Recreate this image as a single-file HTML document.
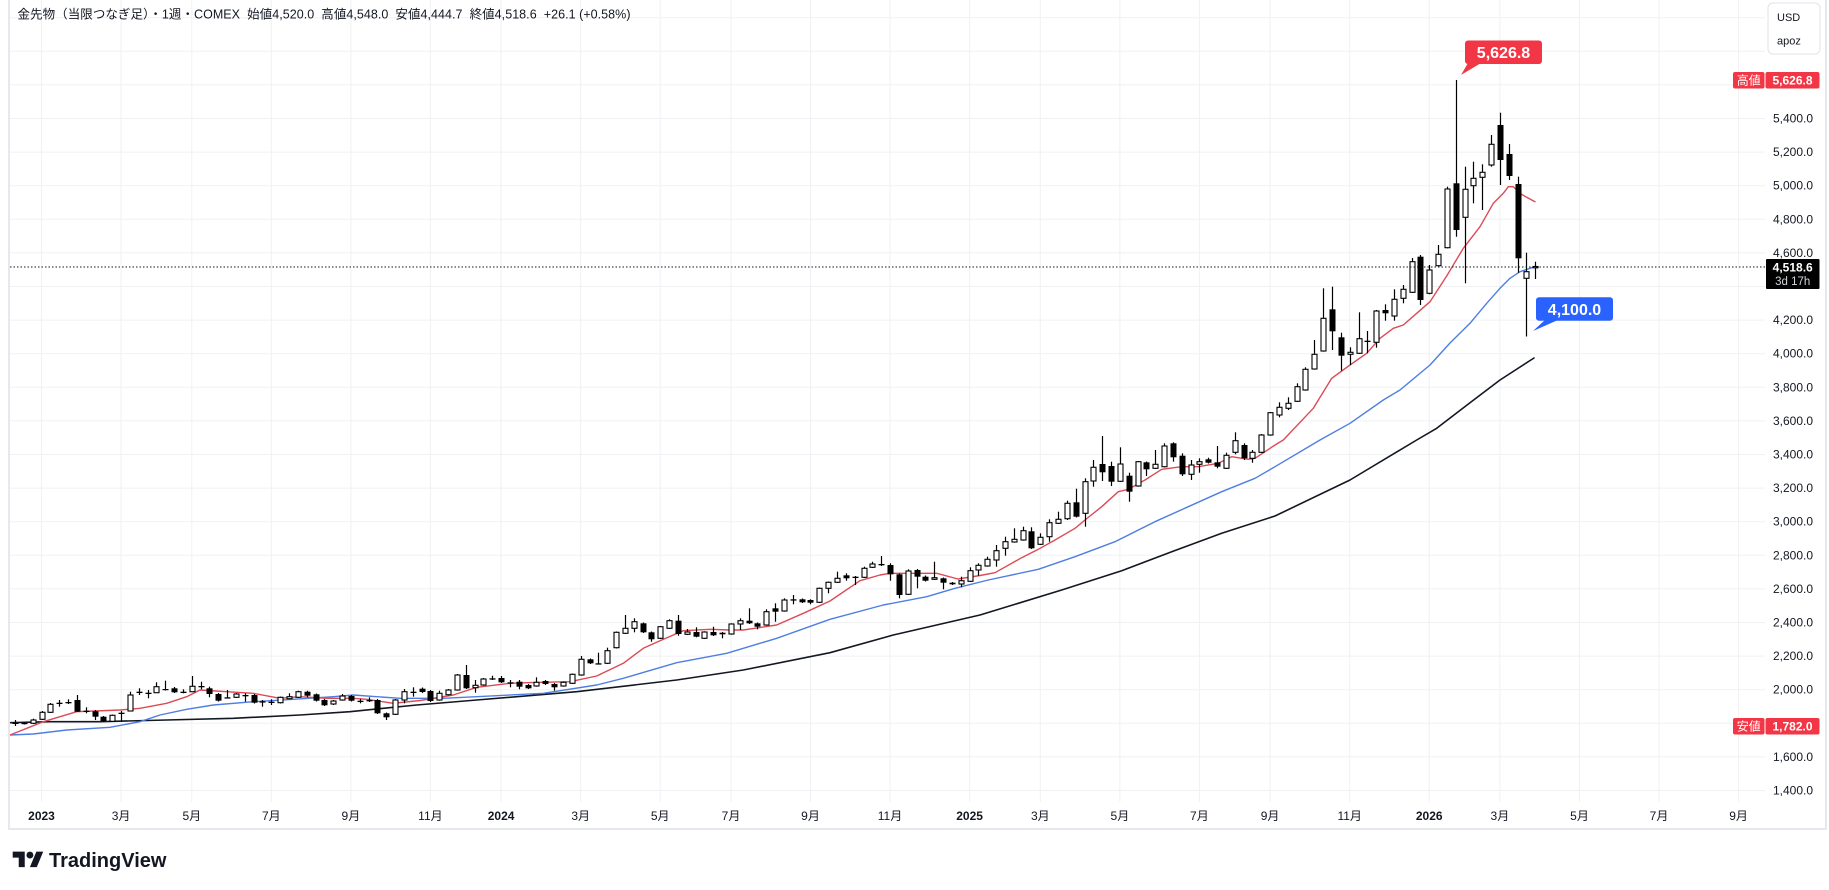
<!DOCTYPE html>
<html><head><meta charset="utf-8"><style>
html,body{margin:0;padding:0;background:#fff;width:1829px;height:890px;overflow:hidden}
svg{display:block}
text{font-family:"Liberation Sans","Noto Sans CJK JP",sans-serif}
</style></head><body>
<svg id="s" width="1829" height="890" viewBox="0 0 1829 890" xmlns="http://www.w3.org/2000/svg">
<rect x="0" y="0" width="1829" height="890" fill="#fff"/>
<g id="grid" stroke="#f0f1f4" stroke-width="1"></g>
<g id="ma" fill="none" stroke-linejoin="round" stroke-linecap="round"></g>
<g id="candles"></g>
<line x1="10" y1="267" x2="1765" y2="267" stroke="#131722" stroke-width="1" stroke-dasharray="1.5,2"/>
<rect x="9" y="-2" width="1817" height="831" fill="none" stroke="#e6e8ee" stroke-width="2"/>

<text x="17.5" y="18.5" font-size="12.5" fill="#131722" textLength="613" lengthAdjust="spacing" xml:space="preserve">金先物（当限つなぎ足）・1週・COMEX  始値4,520.0  高値4,548.0  安値4,444.7  終値4,518.6  +26.1 (+0.58%)</text>

<g font-size="12" fill="#131722">
<text x="1773" y="122.5">5,400.0</text>
<text x="1773" y="156.1">5,200.0</text>
<text x="1773" y="189.7">5,000.0</text>
<text x="1773" y="223.3">4,800.0</text>
<text x="1773" y="256.9">4,600.0</text>
<text x="1773" y="324.1">4,200.0</text>
<text x="1773" y="357.7">4,000.0</text>
<text x="1773" y="391.3">3,800.0</text>
<text x="1773" y="424.9">3,600.0</text>
<text x="1773" y="458.5">3,400.0</text>
<text x="1773" y="492.1">3,200.0</text>
<text x="1773" y="525.7">3,000.0</text>
<text x="1773" y="559.3">2,800.0</text>
<text x="1773" y="592.9">2,600.0</text>
<text x="1773" y="626.5">2,400.0</text>
<text x="1773" y="660.1">2,200.0</text>
<text x="1773" y="693.7">2,000.0</text>
<text x="1773" y="760.9">1,600.0</text>
<text x="1773" y="794.5">1,400.0</text>
</g>

<g font-size="12" fill="#131722" text-anchor="middle">
<text x="41.5" y="820" font-weight="bold">2023</text>
<text x="121.1" y="820">3月</text>
<text x="191.8" y="820">5月</text>
<text x="271.3" y="820">7月</text>
<text x="350.9" y="820">9月</text>
<text x="430.4" y="820">11月</text>
<text x="501.1" y="820" font-weight="bold">2024</text>
<text x="580.7" y="820">3月</text>
<text x="660.2" y="820">5月</text>
<text x="731" y="820">7月</text>
<text x="810.5" y="820">9月</text>
<text x="890" y="820">11月</text>
<text x="969.6" y="820" font-weight="bold">2025</text>
<text x="1040.3" y="820">3月</text>
<text x="1119.9" y="820">5月</text>
<text x="1199.4" y="820">7月</text>
<text x="1270.1" y="820">9月</text>
<text x="1349.7" y="820">11月</text>
<text x="1429.2" y="820" font-weight="bold">2026</text>
<text x="1499.9" y="820">3月</text>
<text x="1579.5" y="820">5月</text>
<text x="1659" y="820">7月</text>
<text x="1738.6" y="820">9月</text>
</g>

<rect x="1768" y="3" width="52" height="51" rx="5" fill="#fff" stroke="#e0e3eb" stroke-width="1"/>
<text x="1777" y="21" font-size="11" fill="#131722">USD</text>
<text x="1777" y="44.5" font-size="11" fill="#131722">apoz</text>

<rect x="1733" y="72" width="31.5" height="16.5" rx="2" fill="#f23645"/>
<rect x="1765.5" y="72" width="54" height="16.5" rx="2" fill="#f23645"/>
<text x="1748.7" y="84.6" font-size="12" fill="#fff" text-anchor="middle">高値</text>
<text x="1792.5" y="84.6" font-size="12" fill="#fff" text-anchor="middle" font-weight="bold">5,626.8</text>

<rect x="1733" y="718" width="31.5" height="16.5" rx="2" fill="#f23645"/>
<rect x="1765.5" y="718" width="54" height="16.5" rx="2" fill="#f23645"/>
<text x="1748.7" y="730.6" font-size="12" fill="#fff" text-anchor="middle">安値</text>
<text x="1792.5" y="730.6" font-size="12" fill="#fff" text-anchor="middle" font-weight="bold">1,782.0</text>

<rect x="1766" y="259" width="53.5" height="30" rx="1" fill="#000"/>
<text x="1792.7" y="271.5" font-size="12" fill="#fff" text-anchor="middle" font-weight="bold">4,518.6</text>
<text x="1792.7" y="285" font-size="11.5" fill="#d1d4dc" text-anchor="middle">3d 17h</text>

<polygon points="1468,63 1481,63 1461,75" fill="#f23645"/>
<rect x="1465" y="40.5" width="77" height="23.5" rx="3" fill="#f23645"/>
<text x="1503.5" y="58" font-size="16" fill="#fff" text-anchor="middle" font-weight="bold">5,626.8</text>

<polygon points="1545,320 1558,320 1533,331" fill="#2962ff"/>
<rect x="1536" y="297.3" width="77" height="23.5" rx="3" fill="#2962ff"/>
<text x="1574.5" y="315" font-size="16" fill="#fff" text-anchor="middle" font-weight="bold">4,100.0</text>

<g transform="translate(12.7,848.2) scale(0.86)" fill="#131722">
<path d="M14 22H7V11H0V4h14v18zM28 22h-8l7.5-18h8L28 22z"/>
<circle cx="20" cy="8" r="4"/>
</g>
<text x="49" y="867" font-size="20" font-weight="bold" fill="#131722">TradingView</text>
</svg>
<script>
(function(){
function X(i){return 41.5+8.839*i;}
var g="";
var vx=[41.5,121.1,191.8,271.3,350.9,430.4,501.1,580.7,660.2,731,810.5,890,969.6,1040.3,1119.9,1199.4,1270.1,1349.7,1429.2,1499.9,1579.5,1659,1738.6];
vx.forEach(function(x){g+='<line x1="'+x+'" y1="0" x2="'+x+'" y2="802"/>';});
for(var p=6000;p>=1400;p-=200){var y=118.5+(5400-p)*0.168;g+='<line x1="10" y1="'+y+'" x2="1765" y2="'+y+'"/>';}
document.getElementById("grid").innerHTML=g;
function pl(pts,col,w){var s="";for(var k=0;k<pts.length;k+=2){s+=pts[k]+","+pts[k+1]+" ";}return '<polyline points="'+s+'" stroke="'+col+'" stroke-width="'+w+'"/>';}
var black=[10,722.7,50,721.7,100,721.7,166.7,720,233.3,718.3,300,715,350,711.7,383.3,708.3,416.7,705,476.7,700,576.7,691.7,676.7,680,743.3,670,830,652.7,893.3,635,980,615,1061.7,590,1121.7,570.7,1171.7,551.7,1221.7,533.3,1275,516,1350,480,1416.7,440,1436.7,428.3,1470,402.7,1500,380,1534,358];
var blue=[10,735,33.3,734,66.7,730,110,727.3,140,721.7,160,715,186.7,709.3,213.3,705,253.3,701.7,293.3,699.3,333.3,696.7,353.3,695,376.7,696.7,400,698.3,420,698.3,443.3,698.3,476.7,696.7,543.3,693.3,596.7,685,623.3,678.3,676.7,662.7,726.7,653.3,776.7,638.3,830,619.3,883.3,605,926.7,596.7,955,588.3,988.3,580,1038.3,569.3,1075,556.7,1115,541.7,1155,521.7,1188.3,506.7,1221.7,491.7,1255,478.3,1275,466.7,1320,440,1350,423.3,1383.3,400,1400,390,1430,365,1450,343,1470,323.3,1486.7,303.3,1500,288.3,1510,278.3,1520,271.7,1530,268.3,1535,266.7];
var red=[10,735,43.3,721.7,76.7,711.7,120,710,140,708.3,166.7,703.3,186.7,696.7,200,690,226.7,691.7,253.3,693.3,280,698.3,300,696.7,326.7,698.3,353.3,698.3,366.7,699.3,393.3,703.3,420,700.5,453.3,695,476.7,687.3,510,683.3,526.7,682.7,570,681.7,596.7,676,623.3,663.3,643.3,648.3,660,640.7,683.3,630.7,710,629.3,730,630,743.3,630,776.7,625,803.3,613.3,830,601,860,580.7,880,575,890,573.3,910,573.3,936.7,573.3,958,579,980,575.5,995,572.7,1021.7,557.7,1038.3,549.3,1055,540,1075,528.3,1085,520,1101.7,506.7,1118.3,491.7,1128.3,489.3,1145,480,1161.7,469.3,1181.7,466.7,1198.3,466.7,1218.3,463.3,1231.7,456.7,1248.3,459.3,1255,458.3,1275,445,1283.3,440,1313.3,408.3,1331.7,378.3,1350,365,1366.7,353.3,1380,338.3,1393.3,328.3,1403.3,325,1416.7,313.3,1430,301.7,1446.7,276,1463.3,248.3,1480,226.7,1493.3,203.3,1503.3,193.3,1508.3,186.7,1513.3,186.7,1520,193.3,1526.7,197.3,1535,201.7];
document.getElementById("ma").innerHTML=pl(black,"#131722",1.6)+pl(blue,"#4f7ee3",1.4)+pl(red,"#dc4b55",1.4);
var D=[
[-3,722.7,724,720,726,'b'],[-2,723,724,722,724.5,'b'],[-1,720,723.3,718.7,724,'w'],[0,712.3,719.3,711,720,'w'],[1,704.3,712.3,703,713,'w'],
[2,702.7,703.5,700,706.7,'d'],[3,702,703,699.3,704,'d'],[4,700,711.7,695,712,'b'],[5,710.7,711.5,707.3,713.3,'d'],[6,711.3,716.7,710,720,'b'],
[7,716.7,721.3,716,722,'b'],[8,715.3,721.3,714.5,722,'w'],[9,712.7,713.5,711,721.7,'d'],[10,695,711,691.7,711.5,'w'],[11,691.7,692.5,688.3,695,'d'],
[12,692.7,693.5,690,698.3,'d'],[13,686.7,692.7,682.3,693,'w'],[14,689,690,680.7,690.5,'b'],[15,688.3,692.3,687,693,'b'],[16,691.7,692.5,689.3,693.3,'d'],
[17,686.3,691.7,676,692,'w'],[18,686,687,681.7,689.3,'d'],[19,688.3,694,686.7,697.3,'b'],[20,694,700.7,693,701.5,'b'],[21,697.3,698,690,698.3,'d'],
[22,694,697.3,693,698,'w'],[23,695,696,693.3,701.7,'d'],[24,695,702.7,694,703.5,'b'],[25,701.3,702,700,706.7,'d'],[26,701.7,702.5,699.3,705,'d'],
[27,697.3,702.7,696.5,703.5,'w'],[28,696.7,698.7,693.3,699.3,'w'],[29,691.7,697.3,690.7,698,'w'],[30,691.7,695.7,690.7,697.3,'b'],[31,694.3,700.7,693.5,701.5,'b'],
[32,700,705.3,699,706,'b'],[33,701,704,700,705,'w'],[34,696,700,694,700.7,'w'],[35,696,700.7,695,701.5,'b'],[36,700.7,701.5,698.7,703.3,'d'],
[37,700,700.8,697.3,702,'d'],[38,700,713.3,699,714,'b'],[39,713.3,717.3,712.5,720,'b'],[40,700,714.3,699,715,'w'],[41,691.7,700,689,703.3,'w'],
[42,691.7,692.5,687.3,696.7,'d'],[43,688.7,692,687.5,693,'b'],[44,691,701,690,702,'b'],[45,693.3,700,690.7,700.7,'w'],[46,690,694.7,689,695.5,'w'],
[47,675,690,674,690.7,'w'],[48,675,688.3,665,689,'b'],[49,685.3,687.7,680,692.7,'w'],[50,679,685,678,685.7,'w'],[51,678.3,679,675.7,680,'d'],
[52,678,682.3,676,683,'b'],[53,682.3,683,680,687.3,'d'],[54,681.7,686.7,680,689.3,'b'],[55,685,688.3,684,689,'b'],[56,682.3,686,677.3,686.7,'w'],
[57,681,684,680,685,'b'],[58,684,687.3,683,690.7,'b'],[59,682.3,686,681.5,686.7,'w'],[60,674.3,683.3,673.5,684,'w'],[61,659.3,675,656,675.7,'w'],
[62,659.3,663.3,658.5,664,'b'],[63,663.3,664,652.7,664.5,'d'],[64,650.7,663.3,647.7,664,'w'],[65,632.3,647.7,631.5,648.5,'w'],[66,628.3,633.3,615,634,'w'],
[67,621.7,628.3,618.3,632.3,'w'],[68,623.3,632.3,622.5,633,'b'],[69,632.3,639.3,631.5,641.7,'b'],[70,626.7,638.3,626,639,'w'],[71,620.7,628.3,619.3,629,'w'],
[72,620.7,634,615,635.7,'b'],[73,632,634.3,629,635,'w'],[74,632,636.7,627.3,637.3,'b'],[75,632,638.3,631.3,639,'w'],[76,632,635.3,626.7,636,'b'],
[77,632.7,634.3,632,638.3,'b'],[78,624,634,623.3,634.7,'w'],[79,620.7,624,618.3,630,'w'],[80,620.7,623.3,608.3,624,'b'],[81,623.3,626.7,622.5,629.3,'b'],
[82,611.7,625,609.3,625.7,'w'],[83,608.3,611.7,603.3,621.7,'b'],[84,600,611,598.3,611.7,'w'],[85,599.3,600,595,604.3,'d'],[86,599.3,602.3,598.5,603,'b'],
[87,600,602.7,599.3,604.3,'b'],[88,588.3,602.3,587.5,603,'w'],[89,582.3,588.3,581.5,593.3,'w'],[90,578.3,582.3,571.7,583,'w'],[91,575.3,578.3,573.3,580.7,'b'],
[92,576.7,577.5,576,585,'d'],[93,568.3,577.3,566.7,578,'w'],[94,564,567.3,561.7,568,'w'],[95,564,564.8,556,566,'d'],[96,565,574.3,563.3,580.7,'b'],
[97,574.3,595,573.5,598.3,'b'],[98,571,594.3,569.3,595,'w'],[99,570,576.7,569,588.3,'b'],[100,576.7,580.7,575.5,581.5,'b'],[101,577.7,579.3,561.7,580,'w'],
[102,578.3,582.7,577.5,589.3,'b'],[103,582.7,584.3,582,585,'b'],[104,580.7,584,576.7,587.3,'w'],[105,570.7,581.3,567.3,582,'w'],[106,565.3,570,563.3,575.7,'w'],
[107,559.3,566,556.7,566.7,'w'],[108,550.7,560,545,566.7,'w'],[109,541.7,548.3,536.7,555.7,'w'],[110,539.3,542,528.3,542.7,'w'],[111,530.7,540,526.7,540.7,'w'],
[112,531.3,548.3,527.3,549,'b'],[113,537.3,544.3,533.3,545,'w'],[114,522.7,536.7,519.3,541.7,'w'],[115,519.3,523.3,511.7,524,'w'],[116,503.3,518.7,500.7,520,'w'],
[117,502.3,516.7,488.7,517.5,'b'],[118,481.7,513.3,478.3,526.7,'w'],[119,467.3,481,460,486.7,'w'],[120,464,472.3,436,481,'b'],[121,466,481.7,461.7,486,'b'],
[122,464,481.3,447.3,482,'w'],[123,475.7,491.7,472.7,501.7,'b'],[124,461.7,486,461,486.7,'w'],[125,462.3,469.3,461.5,476,'b'],[126,464.3,468.3,450,469,'w'],
[127,446,466.7,443.3,467.5,'w'],[128,443.3,457.3,442.3,461.7,'b'],[129,455.7,474.3,453.3,476,'b'],[130,465,474.3,460,480,'w'],[131,461.7,464.3,458.3,472.7,'w'],
[132,459.3,462.7,457.7,463.5,'b'],[133,462.3,466.7,446,468.3,'b'],[134,455.3,468.3,452.7,469,'w'],[135,440.7,452.3,432.3,454.3,'w'],[136,445,458.3,443.3,460,'b'],
[137,452.3,458.3,450,462.7,'w'],[138,435,452.3,434,453,'w'],[139,412.7,435,412,435.7,'w'],[140,407.3,415,402.3,417.3,'w'],[141,403.3,408.3,397.3,410,'w'],
[142,386.7,401.3,383.3,402,'w'],[143,369.3,390,367.3,390.7,'w'],[144,354.3,369,340,369.7,'w'],[145,318.3,351,288.3,351.7,'w'],[146,309.3,331.3,286.7,350,'b'],
[147,337.3,355.7,332.7,370.7,'b'],[148,352.3,354.3,347.3,365,'w'],[149,338.7,353.3,312.3,354,'w'],[150,340.7,341.5,331,353.3,'d'],[151,311,342.3,310,347.7,'w'],
[152,310,313.3,304.3,320.7,'b'],[153,299.3,316,289.3,320.7,'w'],[154,289.3,298.3,285,303.3,'w'],[155,261.7,292.3,258,293,'w'],[156,256.7,300,255,305,'b'],
[157,270,293.3,265,294.3,'w'],[158,254.3,265.7,245,266.3,'w'],[159,189,247.7,186.7,248.3,'w'],[160,183.3,230,80,236.7,'b'],[161,189.3,217.3,166.7,283.3,'w'],
[162,178.3,185.7,161.7,203.3,'w'],[163,172.3,177.3,164.3,210,'w'],[164,144.3,165,135,166.7,'w'],[165,125,160,112.7,185,'b'],[166,154,176,144,180,'b'],
[167,184,258.3,176.7,272.7,'b'],[168,271.7,278.3,252.7,336.5,'w'],[169,266.5,267.8,261.7,279,'w']
];
var s="";
D.forEach(function(c){
 var cx=Math.round(X(c[0]));var wx=cx+0.5;
 s+='<line x1="'+wx+'" y1="'+c[3]+'" x2="'+wx+'" y2="'+c[4]+'" stroke="#000" stroke-width="1.2"/>';
 var t=c[1],b=c[2],h=Math.max(b-t,1.2);
 if(c[5]==='w'){
   s+='<rect x="'+(cx-2)+'" y="'+t+'" width="5" height="'+Math.max(h,1)+'" fill="#fff" stroke="#000" stroke-width="1.1"/>';
 }else if(c[5]==='b'){
   s+='<rect x="'+(cx-2.5)+'" y="'+t+'" width="6" height="'+h+'" fill="#000"/>';
 }else{
   s+='<rect x="'+(cx-2.5)+'" y="'+t+'" width="6" height="1.3" fill="#000"/>';
 }
});
document.getElementById("candles").innerHTML=s;
})();
</script>
</body></html>
